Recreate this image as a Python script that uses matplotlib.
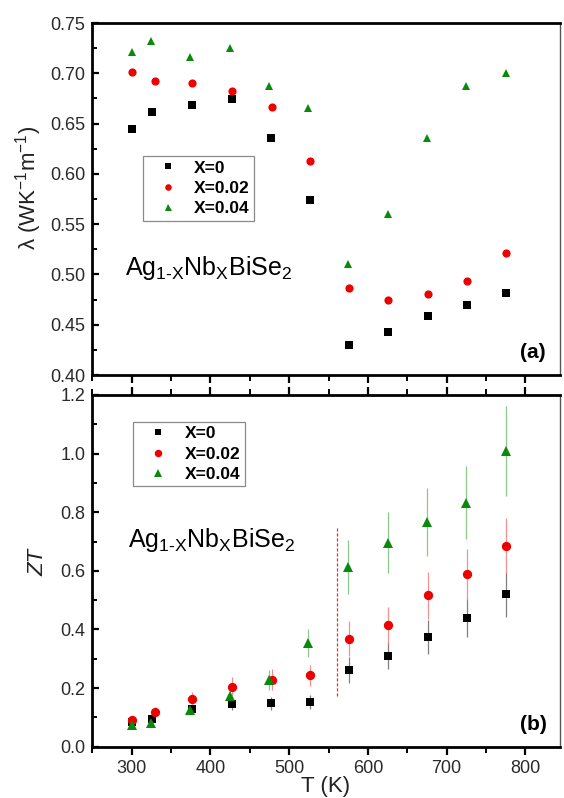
import matplotlib
matplotlib.use("Agg")
import matplotlib.pyplot as plt
from matplotlib.ticker import MultipleLocator, FormatStrFormatter

plt.rcParams['font.family'] = ['Liberation Sans', 'DejaVu Sans']
plt.rcParams['mathtext.fontset'] = 'custom'
plt.rcParams['mathtext.rm'] = 'Liberation Sans'
plt.rcParams['mathtext.it'] = 'Liberation Sans:italic'
plt.rcParams['mathtext.bf'] = 'Liberation Sans:bold'

# ---- data -------------------------------------------------------------
labels = ["X=0", "X=0.02", "X=0.04"]
colors = ["#000000", "#ee0000", "#0a8a0a"]
markers = ["s", "o", "^"]

temp_x0 = [300, 326, 376, 427, 477, 526, 576, 625, 676, 726, 775]
temp_x002 = [300, 330, 376, 427, 478, 526, 576, 625, 676, 726, 775]
temp_x004 = [300, 325, 374, 425, 475, 524, 575, 625, 675, 725, 775]

# thermal conductivity (W K^-1 m^-1)
kappa_x0 = [0.645, 0.662, 0.668, 0.674, 0.636, 0.574, 0.430, 0.443, 0.459, 0.470, 0.482]
kappa_x002 = [0.701, 0.692, 0.690, 0.682, 0.666, 0.613, 0.487, 0.475, 0.481, 0.493, 0.521]
kappa_x004 = [0.721, 0.732, 0.716, 0.725, 0.687, 0.665, 0.510, 0.560, 0.636, 0.687, 0.700]

# figure of merit with uncertainties
zt_x0 = [0.085, 0.094, 0.128, 0.146, 0.148, 0.152, 0.262, 0.310, 0.373, 0.440, 0.521]
zt_err_x0 = [0.010, 0.012, 0.015, 0.020, 0.022, 0.024, 0.043, 0.046, 0.058, 0.066, 0.079]
zt_x002 = [0.091, 0.119, 0.163, 0.205, 0.228, 0.243, 0.369, 0.415, 0.517, 0.588, 0.685]
zt_err_x002 = [0.012, 0.015, 0.025, 0.033, 0.036, 0.037, 0.059, 0.063, 0.080, 0.087, 0.094]
zt_x004 = [0.074, 0.080, 0.125, 0.173, 0.228, 0.353, 0.612, 0.696, 0.768, 0.833, 1.009]
zt_err_x004 = [0.008, 0.010, 0.015, 0.020, 0.033, 0.047, 0.092, 0.105, 0.116, 0.125, 0.154]

transition_T = 561
transition_span = (0.173, 0.745)

temps = [temp_x0, temp_x002, temp_x004]
kappas = [kappa_x0, kappa_x002, kappa_x004]
zts = [zt_x0, zt_x002, zt_x004]
zt_errs = [zt_err_x0, zt_err_x002, zt_err_x004]
err_colors = ["#808080", "#f29090", "#8cc88c"]

# ---- figure -------------------------------------------------------------
W, H = 564, 798
fig = plt.figure(figsize=(W / 100, H / 100), dpi=100)


def px_rect(x0, y0, x1, y1):
    return [x0 / W, 1 - y1 / H, (x1 - x0) / W, (y1 - y0) / H]


ax1 = fig.add_axes(px_rect(92.3, 23, 560, 375))
ax2 = fig.add_axes(px_rect(92.3, 395, 560, 746.7))

tick_color = "#2a2a2a"


def style_axes(ax):
    for side in ["left", "bottom", "top"]:
        ax.spines[side].set_linewidth(2.0)
    ax.spines["right"].set_linewidth(1.0)
    ax.spines["right"].set_color("#555555")
    ax.set_xlim(250, 844)
    ax.xaxis.set_major_locator(MultipleLocator(100))
    ax.xaxis.set_minor_locator(MultipleLocator(50))
    ax.tick_params(axis="y", which="both", direction="in", left=True, right=False,
                   labelsize=13, labelcolor=tick_color, pad=5)
    ax.tick_params(axis="y", which="major", length=5, width=1.6)
    ax.tick_params(axis="y", which="minor", length=3.5, width=1.4)
    ax.tick_params(axis="x", which="both", direction="out",
                   labelsize=13, labelcolor=tick_color, pad=4)
    ax.tick_params(axis="x", which="major", length=5.5, width=1.6)
    ax.tick_params(axis="x", which="minor", length=4, width=1.4)


style_axes(ax1)
style_axes(ax2)

# top panel: thermal conductivity
ax1.set_ylim(0.40, 0.75)
ax1.yaxis.set_major_locator(MultipleLocator(0.05))
ax1.yaxis.set_minor_locator(MultipleLocator(0.025))
ax1.yaxis.set_major_formatter(FormatStrFormatter("%.2f"))
ax1.tick_params(axis="x", which="both", labelbottom=False, top=False)

top_sizes = [5.3, 5.9, 6.3]
h1 = []
for t, k, c, m, lab, ms in zip(temps, kappas, colors, markers, labels, top_sizes):
    ln, = ax1.plot(t, k, linestyle="none", marker=m, color=c, markersize=ms,
                   markeredgewidth=0, label=lab)
    h1.append(ln)

# bottom panel: ZT
ax2.set_ylim(0.0, 1.2)
ax2.yaxis.set_major_locator(MultipleLocator(0.2))
ax2.yaxis.set_minor_locator(MultipleLocator(0.1))
ax2.yaxis.set_major_formatter(FormatStrFormatter("%.1f"))
ax2.tick_params(axis="x", which="both", top=True, bottom=True)

bottom_sizes = [6.0, 6.7, 6.8]
h2 = []
for t, z, e, c, ec, m, ms in zip(temps, zts, zt_errs, colors, err_colors,
                                 markers, bottom_sizes):
    cont = ax2.errorbar(t, z, yerr=e, linestyle="none", marker=m, color=c,
                        markersize=ms, markeredgewidth=0, ecolor=ec,
                        elinewidth=0.9, capsize=2.2, capthick=0.9)
    h2.append(cont[0])

ax2.vlines(transition_T, *transition_span, colors="#e03030", linewidth=0.9,
           linestyles=(0, (2.5, 1.5)))

# legends
leg_kw = dict(loc="upper left", frameon=True, fancybox=False, framealpha=1,
              edgecolor="#8a8a8a", borderaxespad=0, borderpad=0.25,
              labelspacing=0.3, handlelength=2.4, handletextpad=0.3,
              markerscale=0.8, prop={"weight": "bold", "size": 12.5})
leg1 = ax1.legend(handles=h1, labels=labels, bbox_to_anchor=(0.108, 0.622), **leg_kw)
leg2 = ax2.legend(handles=h2, labels=labels, bbox_to_anchor=(0.0877, 0.924), **leg_kw)
for lg in (leg1, leg2):
    lg.get_frame().set_linewidth(0.9)

# labels and annotations
formula = r"Ag$_{\mathrm{1}\text{-}\mathrm{X}}$Nb$_{\mathrm{X}}$BiSe$_{\mathrm{2}}$"


def ftext(x, y, s, **kw):
    return fig.text(x / W, 1 - y / H, s, **kw)


ftext(125, 275, formula, fontsize=18, ha="left", va="baseline")
ftext(128, 546.7, formula, fontsize=18, ha="left", va="baseline")
ftext(533, 352, "(a)", fontsize=15, fontweight="bold", ha="center", va="center")
ftext(533, 725, "(b)", fontsize=15, fontweight="bold", ha="center", va="center")
ftext(29, 188, r"λ (WK$^{\mathrm{-1}}$m$^{\mathrm{-1}}$)", fontsize=16,
      rotation=90, ha="center", va="center", color="#222222")
ftext(38, 562, "ZT", fontsize=16, style="italic", rotation=90,
      ha="center", va="center", color="#222222")
ftext(326, 797, "T (K)", fontsize=16, ha="center", va="bottom", color="#222222")

fig.savefig("out.png", dpi=100)
